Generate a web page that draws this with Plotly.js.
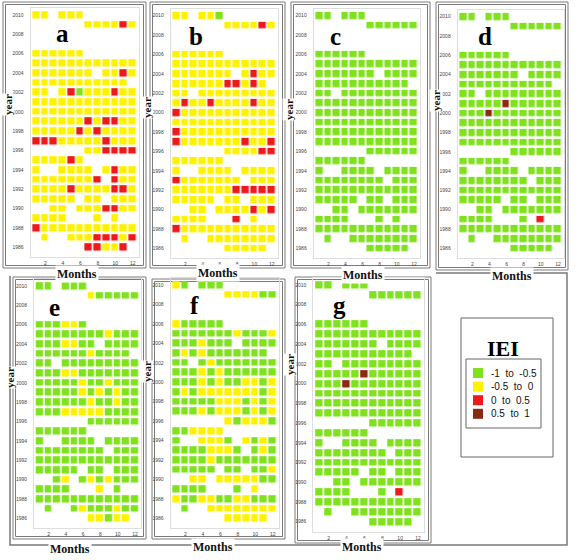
<!DOCTYPE html>
<html><head><meta charset="utf-8">
<script src="https://cdn.plot.ly/plotly-3.0.1.min.js"></script>
<style>html,body{margin:0;padding:0;background:#fff}#chart{width:580px;height:560px}</style>
</head><body><div id="chart"></div>
<script>
// ---------- DATA ----------
const years = [2010,2009,2008,2007,2006,2005,2004,2003,2002,2001,2000,1999,1998,1997,1996,1995,1994,1993,1992,1991,1990,1989,1988,1987,1986];
const months = [1,2,3,4,5,6,7,8,9,10,11,12];
const xTickVals = [2,4,6,8,10,12];
const yTickVals = [1986,1988,1990,1992,1994,1996,1998,2000,2002,2004,2006,2008,2010];
// G = -1 to -0.5, Y = -0.5 to 0, R = 0 to 0.5, B = 0.5 to 1, . = no data  (rows 2010 -> 1986, months 1..12)
const panelA = ["YY.YYY......","......YYYYRY","............","............","YYYYYY......","YYYYYYYYYYYY","YYYYYYY.YYRY","YYYYYYYYYYY.","YY.YRGYYYRYY","YYYYYYYYYYYY","YYYYYYYYYYYY","YYYYYYRYRRYY","YYYYYRYRYYYY","RRRYYYYYRYYY","......YYRRRR","YYYYRY......","Y..YYYY.YRYY","YYYYYYYR.RYY","YYYYRYYYYRRY","YYYYY.YY.YYY","..YY.YYYRRYY","YYYY...Y.Y..","RYYYYYYYYYYY",".Y..YYYRRRYR","......RRYYR."];
const panelB = ["YY.YYG......","......YYYYRY","............","............","YYYYYY......","YYYYYYYYYYYY","YYYYYYY.YRYY","YYYYYYRRYRY.","YY.YYYYYYYYY","YRYYRYYYYRYY","RYYYYYYYYYYY","YYYYYYYYYYYY","RYYYYYYYYYYY","RYYYYYYYRYYR","......YYYYRR","YYYYYY......","Y..YYYY.YYYY","RYYYYYYY.YYY","YYYYYYYRRRRR","YYYYY.YY.YYY","..YY.YYYYRYR","YYYY...R.Y..","RYYYYYYYYYYY",".Y..YYYYYYYY","......YYYYY."];
const panelC = ["GG.GGG......","......GGGGGG","............","............","GGGGGG......","GGGGGGGGGGGG","GGGGGGG.GGGG","GGGGGGGGGGG.","GG.GGGGGGGGG","GGGGGGGGGGGG","GGGGGGGGGGGG","GGGGGGGGGGGG","GGGGGGGGGGGG","GGGGGGGGGGGG","......GGGGGG","GGGGGG......","G..GGGG.GGGG","GGGGGGGG.GGG","GGGGGGGGGGGG","GGGGG.GG.GGG","..GG.GGGGGGG","GGGG...G.G..","GGGGGGGGGGGG",".G..GGGGGGGG","......GGGGG."];
const panelD = ["GG.GGG......","......GGGGGG","............","............","GGGGGG......","GGGGGGGGGGGG","GGGGGGG.GGGG","GGGGGGGGGGG.","GG.GGGGGGGGG","GGGGGBGGGGGG","GGGBGGGGGGGG","GGGGGGGGGGGG","GGGGGGGGGGGG","GGGGGGGGGGGG","......GGGGGG","GGGGGG......","G..GGGG.GGGG","GGGGGGGG.GGG","GGGGGGGGGGGG","GGGGG.GG.GGG","..GG.GGGGGGG","GGGG...G.R..","GGGGGGGGGGGG",".G..GGGGGGGG","......GGGGG."];
const panelE = ["GG.GGG......","......YGGGGG","............","............","GGGYYG......","GGGGGGGGYGGG","GGGYYGG.GGGG","GGGGGGYGGGG.","GG.GGGGGGGGG","GGGYYGGGGGGG","GGGGGYGGYGGG","GGGGGYGYGYGG","GGGGGGYGGYGG","GGGYYYYYGGGG","......GGGGGG","GGGGGG......","G..GGGG.GGGG","GGGGGGGG.GGG","GGGGGGGGGGGG","GGGGG.GG.GGG","..GY.GYGYGGG","GGGG...Y.G..","GGGGGGGGGGGG",".G..GYGGGYGG","......YYGYY."];
const panelF = ["YG.GGG......","......YYYYGG","............","............","YGGGGG......","GGGGGGGYGGGY","GGGYGGG.GGGG","GYGYGGGGGGG.","GG.GYGGGGGGG","GGGYGYGGGGGG","GGGYGYGGYYGY","GYGYYYYYYYGY","GGGGGYYYGYGY","GGGYGYYYGYGY","......YGYYYG","GGYYYY......","G..YYYG.YGYG","GGGGYYYG.GYG","GGGGYGGGGGGG","GGGGG.GG.GGY","..YY.YYYYYGG","GGGG...G.Y..","YGGYYGGYYGGG",".G..YYYYYYYY","......YYYYY."];
const panelG = ["GG.GGG......","......GGGGGG","............","............","GGGGGG......","GGGGGGGGGGGG","GGGGGGG.GGGG","GGGGGGGGGGG.","GG.GGGGGGGGG","GGGGGBGGGGGG","GGGBGGGGGGGG","GGGGGGGGGGGG","GGGGGGGGGGGG","GGGGGGGGGGGG","......GGGGGG","GGGGGG......","G..GGGG.GGGG","GGGGGGGG.GGG","GGGGGGGGGGGG","GGGGG.GG.GGG","..GG.GGGGGGG","GGGG...G.R..","GGGGGGGGGGGG",".G..GGGGGGGG","......GGGGG."];
const panelLetters = ["a","b","c","d","e","f","g"];
const legendTitle = "IEI";
const legendLabels = ["-1  to  -0.5","-0.5  to  0","0  to  0.5","0.5  to  1"];
const classColors = ["#80e21e","#fff200","#ec1a1a","#8a2a12"];
const classCodes = {G:1, Y:2, R:3, B:4};

// ---------- LAYOUT GEOMETRY (pixels) ----------
const W = 580, H = 560;
const px = v => v / W;
const py = v => 1 - v / H;
const panels = [
  {rows: panelA, box:{l:30.6, r:138.8, t:8.2,   b:257},   letter:{x:62,  y:33},  year:{x:8,   y:105}, months:{x:77,  y:274}},
  {rows: panelB, box:{l:170.7,r:277.7, t:8.9,   b:258},   letter:{x:196, y:36},  year:{x:147, y:108}, months:{x:218, y:273}},
  {rows: panelC, box:{l:313.7,r:420,   t:8.9,   b:258},   letter:{x:335, y:36},  year:{x:289, y:110}, months:{x:363, y:275}},
  {rows: panelD, box:{l:457.7,r:564,   t:9.9,   b:258},   letter:{x:485, y:36},  year:{x:436, y:100}, months:{x:512, y:276}},
  {rows: panelE, box:{l:34,   r:141,   t:279.2, b:528},   letter:{x:54,  y:307}, year:{x:10,  y:378}, months:{x:70,  y:549}},
  {rows: panelF, box:{l:170.6,r:278.8, t:278.2, b:528},   letter:{x:194, y:305}, year:{x:147, y:372}, months:{x:213, y:547}},
  {rows: panelG, box:{l:313.4,r:424.3, t:278.1, b:531.6}, letter:{x:340, y:306}, year:{x:290, y:365}, months:{x:362, y:547}}
];
const frames = [
  {l:3,  r:146, t:2,   b:268},
  {l:150,r:285, t:2,   b:268},
  {l:291,r:430, t:2,   b:268},
  {l:436,r:568, t:2,   b:270},
  {l:13, r:146, t:277, b:539},
  {l:152,r:285, t:279, b:539},
  {l:295,r:431, t:277, b:543}
];

const colorscale = [];
classColors.forEach((c, i) => { colorscale.push([i/4, c]); colorscale.push([(i+1)/4, c]); });

const yearsAsc = years.slice().reverse();
const traces = [];
const layout = {
  width: W, height: H, margin:{l:0,r:0,t:0,b:0},
  paper_bgcolor:'#fff', plot_bgcolor:'#fff', showlegend:false,
  shapes:[], annotations:[]
};
const tickFont = {family:'Liberation Sans, Arial, sans-serif', size:5, color:'#444'};
const serifBold = 'Liberation Serif, Times New Roman, serif';

panels.forEach((p, i) => {
  const ax = i === 0 ? '' : String(i+1);
  const z = p.rows.map(s => s.split('').map(ch => (ch in classCodes) ? classCodes[ch] : null)).reverse();
  traces.push({
    type:'heatmap', x: months, y: yearsAsc, z: z,
    xaxis:'x'+ax, yaxis:'y'+ax, colorscale: colorscale, zmin:0.5, zmax:4.5,
    showscale:false, xgap:1.6, ygap:2.6, hoverinfo:'skip'
  });
  const b = p.box;
  layout['xaxis'+ax] = {
    domain:[px(b.l), px(b.r)], range:[0.3,12.7], anchor:'y'+ax,
    tickmode:'array', tickvals:xTickVals, ticks:'', showgrid:false, zeroline:false,
    showline:true, mirror:true, linecolor:'#dedede', linewidth:1,
    tickfont:tickFont, ticklabelstandoff:1, fixedrange:true
  };
  layout['yaxis'+ax] = {
    domain:[py(b.b), py(b.t)], range:[1985,2010.7], anchor:'x'+ax,
    tickmode:'array', tickvals:yTickVals, ticks:'', showgrid:false, zeroline:false,
    showline:true, mirror:true, linecolor:'#dedede', linewidth:1,
    tickfont:tickFont, ticklabelstandoff:5, fixedrange:true
  };
  layout.annotations.push({xref:'paper', yref:'paper', x:px(p.letter.x), y:py(p.letter.y),
    text:'<b>'+panelLetters[i]+'</b>', showarrow:false, xanchor:'center', yanchor:'middle',
    font:{family:serifBold, size:25, color:'#000'}});
});

// frames (double gray lines)
frames.forEach(f => {
  [0, 2.5].forEach(o => layout.shapes.push({type:'rect', xref:'paper', yref:'paper',
    x0:px(f.l+o), x1:px(f.r-o), y0:py(f.b-o), y1:py(f.t+o), line:{color:'#7a7a7a', width:1}, layer:'below'}));
});
// outer frame of lower row
layout.shapes.push({type:'path', xref:'paper', yref:'paper', layer:'below',
  path:`M ${px(436)} ${py(273)} L ${px(567)} ${py(273)} L ${px(567)} ${py(545)} L ${px(10)} ${py(545)} L ${px(10)} ${py(276)}`,
  line:{color:'#7a7a7a', width:1.5}});

// axis titles as labels sitting on the frames
panels.forEach(p => {
  layout.annotations.push({xref:'paper', yref:'paper', x:px(p.months.x), y:py(p.months.y),
    text:'<b>Months</b>', showarrow:false, xanchor:'center', yanchor:'middle', bgcolor:'#fff', borderpad:1,
    font:{family:serifBold, size:12, color:'#111'}});
  layout.annotations.push({xref:'paper', yref:'paper', x:px(p.year.x), y:py(p.year.y),
    text:'<b>year</b>', showarrow:false, xanchor:'center', yanchor:'middle', textangle:-90, bgcolor:'#fff', borderpad:0,
    font:{family:serifBold, size:11, color:'#111'}});
});

// legend box
layout.shapes.push({type:'rect', xref:'paper', yref:'paper', x0:px(461), x1:px(553), y0:py(457), y1:py(318), line:{color:'#666', width:1}});
layout.shapes.push({type:'rect', xref:'paper', yref:'paper', x0:px(466), x1:px(541), y0:py(428), y1:py(359), line:{color:'#666', width:1}});
layout.annotations.push({xref:'paper', yref:'paper', x:px(503), y:py(348), text:'<b>'+legendTitle+'</b>', showarrow:false,
  xanchor:'center', yanchor:'middle', font:{family:serifBold, size:22, color:'#000'}});
legendLabels.forEach((lab, i) => {
  const cy = 373 + i*13.6;
  layout.shapes.push({type:'rect', xref:'paper', yref:'paper', x0:px(473), x1:px(483), y0:py(cy+5), y1:py(cy-5),
    fillcolor:classColors[i], line:{width:0}});
  layout.annotations.push({xref:'paper', yref:'paper', x:px(489), y:py(cy), text:lab, showarrow:false,
    xanchor:'left', yanchor:'middle', font:{family:'Liberation Sans, Arial, sans-serif', size:10, color:'#111'}});
});

Plotly.newPlot('chart', traces, layout, {staticPlot:true, displayModeBar:false});
</script>
</body></html>
